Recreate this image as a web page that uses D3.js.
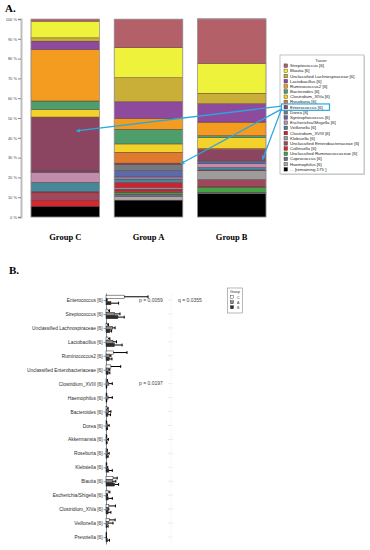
<!DOCTYPE html>
<html>
<head>
<meta charset="utf-8">
<title>Taxa by group</title>
<script src="https://d3js.org/d3.v7.min.js"></script>
<style>
  body { margin: 0; background: #fff; }
  svg { display: block; }
</style>
</head>
<body>
<div id="chart"></div>
<script>
  // ---- panel A: stacked relative abundance ----
  const groups = ["Group C", "Group A", "Group B"];
  const taxa = ["Streptococcus [6]", "Blautia [6]", "Unclassified Lachnospiraceae [6]", "Lactobacillus [6]",
    "Ruminococcus2 [6]", "Bacteroides [6]", "Clostridium_XIVa [6]", "Roseburia [6]", "Enterococcus [6]",
    "Dorea [6]", "Syntrophococcus [6]", "Escherichia/Shigella [6]", "Veillonella [6]", "Clostridium_XVIII [6]",
    "Klebsiella [6]", "Unclassified Enterobacteriaceae [6]", "Collinsella [6]", "Unclassified Ruminococcaceae [6]",
    "Coprococcus [6]", "Haemophilus [6]", "... [remaining 175 ]"];
  const taxonColors = ["#b36068", "#eff23a", "#c9ae37", "#8e4a9c", "#f39c1f", "#4e9e6c", "#f4d22c", "#e07a2e",
    "#8c4560", "#76797c", "#5b6aa8", "#c48cac", "#44889a", "#d4202c", "#9c9c9c", "#a0475e", "#d8262e",
    "#44a244", "#6a7488", "#a8a8a8", "#000000"];
  const groupC = [1.0, 8.4, 1.7, 4.2, 26.0, 4.4, 3.7, 0.3, 27.0, 0.3, 0.3, 5.1, 4.7, 0.7, 0.3, 3.4, 3.0, 0.0, 0.0, 0.0, 5.4];
  const groupA = [14.3, 15.1, 12.2, 8.4, 5.5, 7.4, 4.2, 5.5, 0.6, 3.2, 3.2, 1.0, 1.9, 2.4, 0.8, 0.6, 1.0, 1.0, 1.0, 2.0, 8.5];
  const groupB = [22.5, 15.1, 5.3, 9.3, 6.8, 1.0, 5.5, 0.6, 5.5, 0.6, 1.0, 1.9, 1.3, 0.3, 4.5, 3.5, 0.3, 2.7, 0.3, 0.3, 11.8];
  const pctTicks = [0, 10, 20, 30, 40, 50, 60, 70, 80, 90, 100];
  const highlight = "Enterococcus [6]";

  // ---- panel B: mean + error per group ----
  const diffTaxa = ["Enterococcus [6]", "Streptococcus [6]", "Unclassified Lachnospiraceae [6]", "Lactobacillus [6]",
    "Ruminococcus2 [6]", "Unclassified Enterobacteriaceae [6]", "Clostridium_XVIII [6]", "Haemophilus [6]",
    "Bacteroides [6]", "Dorea [6]", "Akkermansia [6]", "Roseburia [6]", "Klebsiella [6]", "Blautia [6]",
    "Escherichia/Shigella [6]", "Clostridium_XIVa [6]", "Veillonella [6]", "Prevotella [6]"];
  const meanC = [26, 3, 2, 3, 10.5, 7, 1, 0.5, 1.5, 0.5, 0.5, 1, 0.5, 10, 3, 4, 4.5, 0.3];
  const errC  = [34, 2, 1.5, 2.5, 19.5, 14, 1, 0.5, 1.5, 0.5, 0.5, 1, 0.5, 6, 2.5, 9.5, 8.5, 0.3];
  const meanA = [0.6, 12, 9.5, 10, 5, 3.5, 4, 3, 4, 2.5, 1.5, 2.5, 1, 9, 1, 2.5, 3, 0.3];
  const errA  = [0.9, 8, 3.5, 5, 2, 2, 5, 6, 3, 2, 2, 2, 1.5, 5, 1, 1.5, 7, 0.3];
  const meanB = [7, 17, 5.5, 12, 4.5, 3, 0.5, 0.5, 2.5, 1, 0.5, 1.5, 4, 12, 3, 3, 1, 2];
  const errB  = [11, 9, 2.5, 11, 4, 2.5, 0.5, 0.5, 4, 1, 1, 1.5, 5, 6, 6, 4, 2, 3];
  const pTaxa = ["Enterococcus [6]", "Clostridium_XVIII [6]"];
  const pTexts = ["p = 0.0059", "p = 0.0197"];
  const qTexts = ["q = 0.0355", ""];
  const legendGroups = ["C", "A", "B"];
  const groupFills = ["#ffffff", "#8a8a8a", "#2b2b2b"];

  const W = 370, H = 550;
  const svg = d3.select("#chart").append("svg")
    .attr("width", W).attr("height", H)
    .style("font-family", "'Liberation Sans', Arial, sans-serif");

  const serif = "'Liberation Serif', 'Times New Roman', serif";

  // ================= Panel A =================
  svg.append("text").attr("x", 5).attr("y", 12)
    .style("font-family", serif).style("font-weight", "bold").style("font-size", "11px")
    .text("A.");

  const y = d3.scaleLinear().domain([0, 100]).range([217, 19]);
  const x = d3.scaleBand().domain(groups).range([31, 266]).paddingInner(0.175).paddingOuter(0);

  const rows = groups.map((g, i) => {
    const vals = [groupC, groupA, groupB][i];
    const r = { group: g };
    taxa.forEach((t, j) => r[t] = vals[j]);
    return r;
  });
  const color = d3.scaleOrdinal().domain(taxa).range(taxonColors);
  // legend order top -> bottom equals bar order top -> bottom
  const stack = d3.stack().keys(taxa.slice().reverse())(rows);

  const yAxis = svg.append("g")
    .attr("transform", "translate(21,0)")
    .call(d3.axisLeft(y).tickValues(pctTicks).tickFormat(d => d + " %").tickSize(3));
  yAxis.select(".domain").attr("stroke", "#bdbdbd").attr("stroke-width", 2);
  yAxis.selectAll(".tick line").attr("stroke", "#888");
  yAxis.selectAll(".tick text").attr("fill", "#444").style("font-size", "4px").attr("x", -4);

  const layers = svg.append("g").selectAll("g")
    .data(stack).join("g")
    .attr("fill", d => color(d.key));
  layers.selectAll("rect")
    .data(d => d)
    .join("rect")
    .attr("x", d => x(d.data.group))
    .attr("width", x.bandwidth())
    .attr("y", d => y(d[1]))
    .attr("height", d => Math.max(0, y(d[0]) - y(d[1])))
    .attr("stroke", "rgba(70,40,50,0.75)")
    .attr("stroke-width", 0.5);

  svg.append("g").selectAll("rect")
    .data(groups).join("rect")
    .attr("x", d => x(d)).attr("y", y(100))
    .attr("width", x.bandwidth()).attr("height", y(0) - y(100))
    .attr("fill", "none").attr("stroke", "#aaa").attr("stroke-width", 0.6);

  svg.append("g").selectAll("text")
    .data(groups).join("text")
    .attr("x", d => x(d) + x.bandwidth() / 2)
    .attr("y", 240)
    .attr("text-anchor", "middle")
    .style("font-family", serif).style("font-weight", "bold").style("font-size", "8.5px")
    .text(d => d);

  // legend
  const lgX = 280, lgY = 55, lgW = 84, lgH = 119, lgStep = 5.18, lgTop = 65.7;
  const lg = svg.append("g");
  lg.append("rect").attr("x", lgX + 1).attr("y", lgY + 1).attr("width", lgW).attr("height", lgH)
    .attr("fill", "#ddd");
  lg.append("rect").attr("x", lgX).attr("y", lgY).attr("width", lgW).attr("height", lgH)
    .attr("fill", "#fff").attr("stroke", "#999").attr("stroke-width", 0.6);
  lg.append("text").attr("x", lgX + lgW / 2 - 1).attr("y", lgY + 6.5)
    .attr("text-anchor", "middle").style("font-size", "4.3px").attr("fill", "#333").text("Taxon");
  const lgItems = lg.selectAll("g.item").data(taxa).join("g")
    .attr("class", "item")
    .attr("transform", (d, i) => `translate(${lgX + 4},${lgTop + i * lgStep})`);
  lgItems.append("rect").attr("x", 0).attr("y", -1.8).attr("width", 3.6).attr("height", 3.6)
    .attr("fill", d => color(d)).attr("stroke", "#333").attr("stroke-width", 0.4);
  lgItems.append("text").attr("x", 6).attr("y", 1.5)
    .style("font-size", "4.4px").attr("fill", "#222").text(d => d);

  const hiIdx = taxa.indexOf(highlight);
  const hiY = lgTop + hiIdx * lgStep;
  const blue = "#2aa7df";
  svg.append("rect").attr("x", lgX + 1.5).attr("y", hiY - 3.2).attr("width", 48).attr("height", 6.4)
    .attr("fill", "none").attr("stroke", blue).attr("stroke-width", 1.2);

  svg.append("defs").append("marker")
    .attr("id", "ah").attr("viewBox", "0 0 10 10").attr("refX", 9).attr("refY", 5)
    .attr("markerWidth", 3.2).attr("markerHeight", 3.2).attr("orient", "auto")
    .append("path").attr("d", "M0,0L10,5L0,10z").attr("fill", blue);

  // arrows from highlighted legend entry to its segment in each bar
  const hiLayer = stack.find(s => s.key === highlight);
  const tipFx = [0.66, 0.97, 0.95];
  const tipFy = [0.75, 0.5, 0.1];
  svg.append("g").selectAll("line")
    .data(hiLayer).join("line")
    .attr("x1", lgX + 1.5).attr("y1", (d, i) => hiY + (i === 0 ? -1 : 2))
    .attr("x2", (d, i) => x(d.data.group) + x.bandwidth() * tipFx[i])
    .attr("y2", (d, i) => y(d[0] + (d[1] - d[0]) * tipFy[i]))
    .attr("stroke", blue).attr("stroke-width", 1.3)
    .attr("marker-end", "url(#ah)");

  // ================= Panel B =================
  svg.append("text").attr("x", 9).attr("y", 274)
    .style("font-family", serif).style("font-weight", "bold").style("font-size", "11px")
    .text("B.");

  const yB = d3.scalePoint().domain(diffTaxa).range([293, 544]).padding(0.5);
  const xB = d3.scaleLinear().domain([0, 100]).range([106, 176]);

  // faint second column guide
  const guide = svg.append("g").attr("transform", "translate(171,0)");
  guide.append("line").attr("y1", 293).attr("y2", 544).attr("stroke", "#f2f2f2").attr("stroke-width", 0.6);
  guide.selectAll("line.t").data(diffTaxa).join("line").attr("class", "t")
    .attr("x1", -3).attr("x2", 2).attr("y1", d => yB(d)).attr("y2", d => yB(d))
    .attr("stroke", "#e2e2e2").attr("stroke-width", 0.6);

  const axB = svg.append("g").attr("transform", "translate(106,0)")
    .call(d3.axisLeft(yB).tickSize(2.5).tickSizeOuter(0));
  axB.select(".domain").attr("stroke", "#555").attr("stroke-width", 0.7);
  axB.selectAll(".tick line").attr("stroke", "#555").attr("stroke-width", 0.6);
  axB.selectAll(".tick text").attr("fill", "#2a2a2a").style("font-size", "4.8px").attr("x", -3.5);

  const barH = 3.2;
  const series = [
    { g: "C", mean: meanC, err: errC, off: -4.8 },
    { g: "A", mean: meanA, err: errA, off: -1.6 },
    { g: "B", mean: meanB, err: errB, off: 1.6 }
  ];
  series.forEach((s, k) => {
    const gs = svg.append("g");
    gs.selectAll("rect").data(diffTaxa).join("rect")
      .attr("x", xB(0))
      .attr("y", d => yB(d) + s.off)
      .attr("width", (d, i) => xB(s.mean[i]) - xB(0))
      .attr("height", barH)
      .attr("fill", groupFills[k]).attr("stroke", "#222").attr("stroke-width", 0.5);
    gs.selectAll("line.e").data(diffTaxa).join("line").attr("class", "e")
      .attr("x1", (d, i) => xB(s.mean[i]))
      .attr("x2", (d, i) => xB(s.mean[i] + s.err[i]))
      .attr("y1", d => yB(d) + s.off + barH / 2)
      .attr("y2", d => yB(d) + s.off + barH / 2)
      .attr("stroke", "#000").attr("stroke-width", 1);
    gs.selectAll("line.c").data(diffTaxa).join("line").attr("class", "c")
      .attr("x1", (d, i) => xB(s.mean[i] + s.err[i]))
      .attr("x2", (d, i) => xB(s.mean[i] + s.err[i]))
      .attr("y1", d => yB(d) + s.off + 0.2)
      .attr("y2", d => yB(d) + s.off + barH - 0.2)
      .attr("stroke", "#000").attr("stroke-width", 1);
  });

  svg.append("g").selectAll("text").data(pTaxa).join("text")
    .attr("x", 139).attr("y", d => yB(d) + 1.6)
    .style("font-size", "5px").attr("fill", "#444")
    .text((d, i) => pTexts[i]);
  svg.append("g").selectAll("text").data(pTaxa).join("text")
    .attr("x", 178).attr("y", d => yB(d) + 1.6)
    .style("font-size", "5px").attr("fill", "#444")
    .text((d, i) => qTexts[i]);

  // group legend
  const gl = svg.append("g").attr("transform", "translate(227.5,288)");
  gl.append("rect").attr("width", 15).attr("height", 25)
    .attr("fill", "#fff").attr("stroke", "#888").attr("stroke-width", 0.6);
  gl.append("text").attr("x", 7.5).attr("y", 4.6).attr("text-anchor", "middle")
    .style("font-size", "3.6px").attr("fill", "#333").text("Group");
  const gli = gl.selectAll("g").data(legendGroups).join("g")
    .attr("transform", (d, i) => `translate(3,${9.3 + i * 5})`);
  gli.append("rect").attr("y", -1.5).attr("width", 3).attr("height", 3)
    .attr("fill", (d, i) => groupFills[i]).attr("stroke", "#222").attr("stroke-width", 0.4);
  gli.append("text").attr("x", 6.5).attr("y", 1.3)
    .style("font-size", "3.6px").attr("fill", "#333").text(d => d);
</script>
</body>
</html>
